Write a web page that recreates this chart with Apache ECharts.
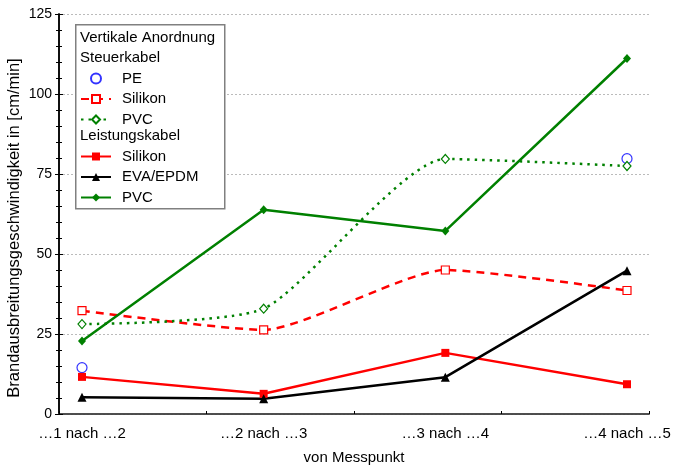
<!DOCTYPE html>
<html><head><meta charset="utf-8">
<script src="https://cdn.jsdelivr.net/npm/echarts@6/dist/echarts.min.js"></script>
<style>html,body{margin:0;padding:0;background:#fff}#c{width:674px;height:466px}</style>
</head><body><div id="c"></div>
<script>
const categories = ['…1 nach …2', '…2 nach …3', '…3 nach …4', '…4 nach …5'];
const steuerPE = [14.5, null, null, 79.8];
const steuerSilikon = [32.3, 26.3, 45.0, 38.6];
const steuerPVC = [28.1, 32.9, 79.7, 77.5];
const leistungSilikon = [11.6, 6.3, 19.1, 9.3];
const leistungEVA = [5.2, 4.8, 11.5, 44.8];
const leistungPVC = [22.8, 63.8, 57.2, 111.1];
const yTicks = [0, 25, 50, 75, 100, 125];

const FONT = 'Arial, "Liberation Sans", sans-serif';
const chart = echarts.init(document.getElementById('c'));
const GT = 14, GH = 400;
const legendText = {fontSize: 15, color: '#000', fontFamily: FONT, padding: [0, 0, 0, 6], lineHeight: 14};
chart.setOption({
  animation: false,
  textStyle: {fontFamily: FONT},
  grid: [
    {left: 59, top: GT, width: 590, height: GH, outerBoundsMode: 'none', containLabel: false},
    {left: 82, top: GT, width: 545, height: GH, outerBoundsMode: 'none', containLabel: false}
  ],
  xAxis: [
    {gridIndex: 0, type: 'value', min: 0, max: 4, interval: 1, position: 'bottom',
     axisLine: {lineStyle: {color: '#000', width: 1.5}}, axisTick: {inside: true, length: 3, lineStyle: {color: '#000'}},
     axisLabel: {show: false}, splitLine: {show: false},
     name: 'von Messpunkt', nameLocation: 'middle', nameGap: 36, nameMoveOverlap: false,
     nameTextStyle: {fontSize: 15, color: '#000', fontFamily: FONT}},
    {gridIndex: 0, type: 'value', min: 0, max: 4, position: 'top',
     axisLine: {lineStyle: {color: '#555', width: 1.5}}, axisTick: {show: false},
     axisLabel: {show: false}, splitLine: {show: false}},
    {gridIndex: 1, type: 'category', data: categories, boundaryGap: false,
     axisLine: {show: false}, axisTick: {show: false}, splitLine: {show: false},
     axisLabel: {fontSize: 15, color: '#000', margin: 12, fontFamily: FONT, interval: 0}}
  ],
  yAxis: [
    {gridIndex: 0, type: 'value', min: yTicks[0], max: yTicks[yTicks.length - 1], interval: 25,
     axisLine: {show: true, lineStyle: {color: '#000', width: 1.5}},
     axisTick: {show: true, inside: true, length: 4, lineStyle: {color: '#000'}},
     minorTick: {show: true, splitNumber: 5, length: 3, lineStyle: {color: '#000'}},
     axisLabel: {fontSize: 14, color: '#000', margin: 7, fontFamily: FONT},
     splitLine: {show: true, lineStyle: {color: '#bbb', type: [2, 2], width: 1}},
     name: 'Brandausbreitungsgeschwindigkeit in [cm/min]', nameLocation: 'middle', nameGap: 36, nameMoveOverlap: false,
     nameTextStyle: {fontSize: 16.5, color: '#000', fontFamily: FONT, padding: [0, 28, 0, 0]}},
    {gridIndex: 0, type: 'value', min: 0, max: 125, interval: 25, position: 'right',
     axisLine: {show: true, lineStyle: {color: '#000', width: 1.5}},
     axisTick: {show: true, inside: true, length: 4, lineStyle: {color: '#000'}},
     minorTick: {show: true, splitNumber: 5, length: 3, lineStyle: {color: '#000'}},
     axisLabel: {show: false}, splitLine: {show: false}},
    {gridIndex: 1, type: 'value', min: 0, max: 125, show: false}
  ],
  legend: [
    {left: 80, top: 71, orient: 'vertical', itemWidth: 30, itemHeight: 10, itemGap: 5.5, padding: 0,
     textStyle: legendText, data: ['PE', 'Silikon ', 'PVC '], z: 10},
    {left: 80, top: 149, orient: 'vertical', itemWidth: 30, itemHeight: 10, itemGap: 5.5, padding: 0,
     textStyle: legendText, data: ['Silikon', 'EVA/EPDM', 'PVC'], z: 10}
  ],
  graphic: [
    {type: 'rect', left: 75, top: 24, z: 5, shape: {width: 149, height: 184},
     style: {fill: '#fff', stroke: '#808080', lineWidth: 1.5}},
    {type: 'text', left: 80, top: 30, z: 6, style: {text: 'Vertikale Anordnung', fill: '#000', font: '15px ' + FONT}},
    {type: 'text', left: 80, top: 50, z: 6, style: {text: 'Steuerkabel', fill: '#000', font: '15px ' + FONT}},
    {type: 'text', left: 80, top: 128.5, z: 6, style: {text: 'Leistungskabel', fill: '#000', font: '15px ' + FONT}}
  ],
  series: [
    {name: 'PE', type: 'scatter', xAxisIndex: 2, yAxisIndex: 2, data: steuerPE,
     symbol: 'circle', symbolSize: 10,
     itemStyle: {color: 'rgba(255,255,255,0)', borderColor: '#0000ff', borderWidth: 1.2}},
    {name: 'Silikon ', type: 'line', xAxisIndex: 2, yAxisIndex: 2, data: steuerSilikon, smooth: 0.2,
     symbol: 'rect', symbolSize: 8,
     lineStyle: {color: '#ff0000', width: 2.5, type: [8, 6]},
     itemStyle: {color: '#fff', borderColor: '#ff0000', borderWidth: 1.2}},
    {name: 'PVC ', type: 'line', xAxisIndex: 2, yAxisIndex: 2, data: steuerPVC, smooth: 0.2,
     symbol: 'diamond', symbolSize: [8, 9],
     lineStyle: {color: '#008000', width: 2.5, type: [2.5, 5]},
     itemStyle: {color: '#fff', borderColor: '#008000', borderWidth: 1.2}},
    {name: 'Silikon', type: 'line', xAxisIndex: 2, yAxisIndex: 2, data: leistungSilikon,
     symbol: 'rect', symbolSize: 8,
     lineStyle: {color: '#ff0000', width: 2.5},
     itemStyle: {color: '#ff0000'}},
    {name: 'EVA/EPDM', type: 'line', xAxisIndex: 2, yAxisIndex: 2, data: leistungEVA,
     symbol: 'triangle', symbolSize: 9,
     lineStyle: {color: '#000', width: 2.5},
     itemStyle: {color: '#000'}},
    {name: 'PVC', type: 'line', xAxisIndex: 2, yAxisIndex: 2, data: leistungPVC,
     symbol: 'diamond', symbolSize: [8, 9],
     lineStyle: {color: '#008000', width: 2.5},
     itemStyle: {color: '#008000'}}
  ]
});
</script></body></html>
